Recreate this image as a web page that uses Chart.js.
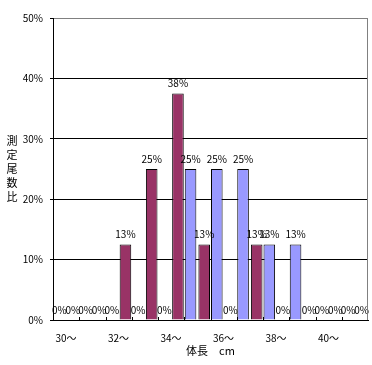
<!DOCTYPE html>
<html>
<head>
<meta charset="utf-8">
<script src="https://cdn.jsdelivr.net/npm/chart.js@4.4.1/dist/chart.umd.min.js"></script>
<style>
  html, body { margin: 0; padding: 0; background: #fff; }
  #wrap { width: 372px; height: 365px; }
</style>
</head>
<body>
<div id="wrap"><canvas id="chart"></canvas></div>
<script>
// body length classes (cm)
const lengths = ['30〜','31〜','32〜','33〜','34〜','35〜','36〜','37〜','38〜','39〜','40〜','41〜','42〜'];
// share of measured fish, %
const seriesA = [0, 0, 0, 12.5, 25, 37.5, 12.5, 0, 12.5, 0, 0, 0, 0];
const seriesB = [0, 0, 0, 0, 0, 25, 25, 25, 12.5, 12.5, 0, 0, 0];
const yTitle = ['測','定','尾','数','比'];
const xTitle = '体長　cm';

const FONT = '"Noto Sans CJK JP", "DejaVu Sans", sans-serif';

// value labels above each bar, like Excel data labels
const barLabels = {
  id: 'barLabels',
  afterDatasetsDraw(chart) {
    const ctx = chart.ctx;
    const area = chart.chartArea;
    ctx.save();
    ctx.font = '10px ' + FONT;
    ctx.fillStyle = '#000';
    ctx.textAlign = 'center';
    ctx.textBaseline = 'bottom';
    chart.data.datasets.forEach((ds, di) => {
      chart.getDatasetMeta(di).data.forEach((bar, i) => {
        if (bar.x < area.left || bar.x > area.right) return;
        ctx.fillText(Math.round(ds.data[i]) + '%', bar.x, bar.y - 5);
      });
    });
    ctx.restore();
  }
};

// gray frame on the right, small inward ticks on the x axis, stacked y title
const frame = {
  id: 'frame',
  afterDraw(chart) {
    const ctx = chart.ctx;
    const a = chart.chartArea;
    const x = chart.scales.x;
    ctx.save();
    ctx.strokeStyle = '#808080';
    ctx.lineWidth = 1;
    ctx.beginPath();
    ctx.moveTo(Math.round(a.right) - 0.5, a.top);
    ctx.lineTo(Math.round(a.right) - 0.5, a.bottom);
    ctx.stroke();

    ctx.strokeStyle = '#000';
    ctx.beginPath();
    for (let i = 1; i < lengths.length - 1; i++) {
      const px = Math.round(x.getPixelForTick(i)) + 0.5;
      ctx.moveTo(px, a.bottom);
      ctx.lineTo(px, a.bottom - 3);
    }
    ctx.stroke();

    ctx.font = '11px ' + FONT;
    ctx.fillStyle = '#000';
    ctx.textAlign = 'center';
    ctx.textBaseline = 'middle';
    yTitle.forEach((ch, i) => ctx.fillText(ch, 12, 141 + i * 14));
    ctx.restore();
  }
};

new Chart(document.getElementById('chart'), {
  type: 'bar',
  data: {
    labels: lengths,
    datasets: [
      { data: seriesA, backgroundColor: '#993366', borderColor: '#000', borderWidth: 1 },
      { data: seriesB, backgroundColor: '#9999FF', borderColor: '#000', borderWidth: 1 }
    ]
  },
  options: {
    responsive: true,
    maintainAspectRatio: false,
    animation: false,
    layout: { padding: { top: 18, right: 4, left: 0, bottom: 0 } },
    datasets: { bar: { categoryPercentage: 0.96, barPercentage: 0.92 } },
    plugins: { legend: { display: false }, tooltip: { enabled: false } },
    scales: {
      x: {
        offset: false,
        grid: { display: true, drawOnChartArea: false, drawTicks: false },
        border: { display: true, color: '#000' },
        ticks: {
          autoSkip: false,
          maxRotation: 0,
          padding: 12,
          labelOffset: 13,
          color: '#000',
          font: { family: FONT, size: 10 },
          callback: (v, i) => (i % 2 === 0 && i < lengths.length - 1) ? lengths[i] : ''
        },
        title: {
          display: true,
          text: xTitle,
          color: '#000',
          font: { family: FONT, size: 11 },
          padding: { top: 0, bottom: 8 }
        },
        afterFit: s => { s.height = 45; s.paddingLeft = 0; s.paddingRight = 0; }
      },
      y: {
        min: 0,
        max: 50,
        ticks: {
          stepSize: 10,
          padding: 7,
          color: '#000',
          font: { family: FONT, size: 10 },
          callback: v => v + '%'
        },
        grid: {
          color: c => c.tick && c.tick.value === 50 ? '#808080' : '#000',
          tickColor: '#000',
          tickLength: 3
        },
        border: { display: true, color: '#000' },
        afterFit: s => { s.width = 53; }
      }
    }
  },
  plugins: [barLabels, frame]
});
</script>
</body>
</html>
